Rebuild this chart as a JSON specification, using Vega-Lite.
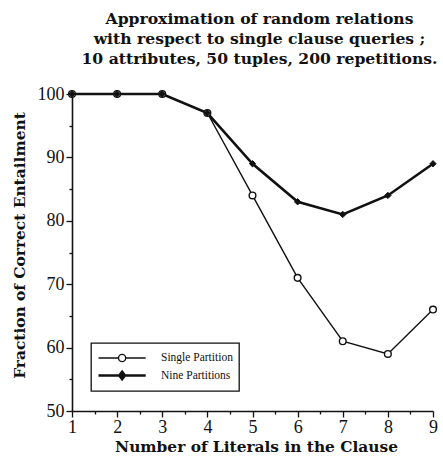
{
  "$schema": "https://vega.github.io/schema/vega-lite/v6.json",
  "width": 361,
  "height": 317,
  "autosize": "none",
  "padding": {"left": 72, "top": 94, "right": 10, "bottom": 56},
  "background": "white",
  "config": {"view": {"stroke": null}, "font": "Liberation Serif"},
  "title": {
    "text": ["Approximation of random relations", "with respect to single clause queries ;", "10 attributes, 50 tuples, 200 repetitions."],
    "font": "DejaVu Serif",
    "fontSize": 15.6,
    "fontWeight": "bold",
    "anchor": "middle",
    "lineHeight": 20,
    "offset": 17,
    "dx": 7,
    "color": "#111"
  },
  "data": {
    "values": [
      {"n": 1, "series": "Single Partition", "v": 100},
      {"n": 2, "series": "Single Partition", "v": 100},
      {"n": 3, "series": "Single Partition", "v": 100},
      {"n": 4, "series": "Single Partition", "v": 97},
      {"n": 5, "series": "Single Partition", "v": 84},
      {"n": 6, "series": "Single Partition", "v": 71},
      {"n": 7, "series": "Single Partition", "v": 61},
      {"n": 8, "series": "Single Partition", "v": 59},
      {"n": 9, "series": "Single Partition", "v": 66},
      {"n": 1, "series": "Nine Partitions", "v": 100},
      {"n": 2, "series": "Nine Partitions", "v": 100},
      {"n": 3, "series": "Nine Partitions", "v": 100},
      {"n": 4, "series": "Nine Partitions", "v": 97},
      {"n": 5, "series": "Nine Partitions", "v": 89},
      {"n": 6, "series": "Nine Partitions", "v": 83},
      {"n": 7, "series": "Nine Partitions", "v": 81},
      {"n": 8, "series": "Nine Partitions", "v": 84},
      {"n": 9, "series": "Nine Partitions", "v": 89}
    ]
  },
  "encoding": {
    "x": {
      "field": "n", "type": "quantitative",
      "scale": {"domain": [1, 9], "nice": false, "zero": false},
      "axis": {
        "title": "Number of Literals in the Clause",
        "titleFont": "DejaVu Serif", "titleFontSize": 15.4, "titleFontWeight": "bold", "titleColor": "#111",
        "titlePadding": 3,
        "titleX": 184,
        "values": [1, 1.5, 2, 2.5, 3, 3.5, 4, 4.5, 5, 5.5, 6, 6.5, 7, 7.5, 8, 8.5, 9],
        "labelExpr": "datum.value % 1 === 0 ? format(datum.value, 'd') : ''",
        "labelFont": "Liberation Serif", "labelFontSize": 18, "labelColor": "#111",
        "labelPadding": 1,
        "labelFlush": false,
        "tickSize": {"condition": {"test": "datum.value % 1 === 0", "value": 6}, "value": 3},
        "tickColor": "#111", "tickWidth": 1.3,
        "domainColor": "#111", "domainWidth": 1.6,
        "grid": false
      }
    },
    "y": {
      "field": "v", "type": "quantitative",
      "scale": {"domain": [50, 100], "nice": false, "zero": false},
      "axis": {
        "title": "Fraction of Correct Entailment",
        "titleFont": "DejaVu Serif", "titleFontSize": 15.4, "titleFontWeight": "bold", "titleColor": "#111",
        "titlePadding": 10,
        "titleY": 151,
        "values": [50, 55, 60, 65, 70, 75, 80, 85, 90, 95, 100],
        "labelExpr": "datum.value % 10 === 0 ? format(datum.value, 'd') : ''",
        "labelFont": "Liberation Serif", "labelFontSize": 18, "labelColor": "#111",
        "labelPadding": 2,
        "labelFlush": false,
        "tickSize": {"condition": {"test": "datum.value % 10 === 0", "value": 6}, "value": 3},
        "tickColor": "#111", "tickWidth": 1.3,
        "domainColor": "#111", "domainWidth": 1.6,
        "grid": false
      }
    }
  },
  "layer": [
    {
      "mark": {"type": "line"},
      "encoding": {
        "color": {
          "field": "series", "type": "nominal",
          "scale": {"domain": ["Single Partition", "Nine Partitions"], "range": ["#111", "#111"]},
          "legend": {
            "title": null,
            "orient": "none",
            "legendX": 19,
            "legendY": 249,
            "strokeColor": "#111",
            "fillColor": "white",
            "padding": 6,
            "labelFont": "Liberation Serif",
            "labelFontSize": 11.5,
            "labelColor": "#111",
            "symbolSize": 256,
            "labelOffset": 45,
            "rowPadding": 1,
            "encode": {
              "legend": {"update": {"strokeWidth": {"value": 1.3}}},
              "symbols": {
                "update": {
                  "shape": {"signal": "datum.value === 'Single Partition' ? 'M-1,0H1.5M2.4,0H4.9M2.4,0A0.45,0.45 0 1,1 1.5,0A0.45,0.45 0 1,1 2.4,0Z' : 'M-1,0H4.9M1.95,-0.45L2.3,0L1.95,0.45L1.6,0Z'"},
                  "fill": {"signal": "datum.value === 'Single Partition' ? 'white' : '#111'"},
                  "stroke": {"value": "#111"},
                  "strokeWidth": {"signal": "datum.value === 'Single Partition' ? 1.4 : 2.4"}
                }
              }
            }
          }
        },
        "strokeWidth": {
          "field": "series", "type": "nominal",
          "scale": {"domain": ["Single Partition", "Nine Partitions"], "range": [1.4, 2.6]},
          "legend": null
        }
      }
    },
    {
      "transform": [{"filter": "datum.series === 'Single Partition'"}],
      "mark": {"type": "point", "shape": "circle", "size": 45, "filled": true, "fill": "white", "stroke": "#111", "strokeWidth": 1.4, "opacity": 1}
    },
    {
      "transform": [{"filter": "datum.series === 'Nine Partitions'"}],
      "mark": {"type": "point", "shape": "diamond", "size": 40, "filled": true, "fill": "#111", "stroke": "#111", "strokeWidth": 1, "opacity": 1}
    }
  ]
}
